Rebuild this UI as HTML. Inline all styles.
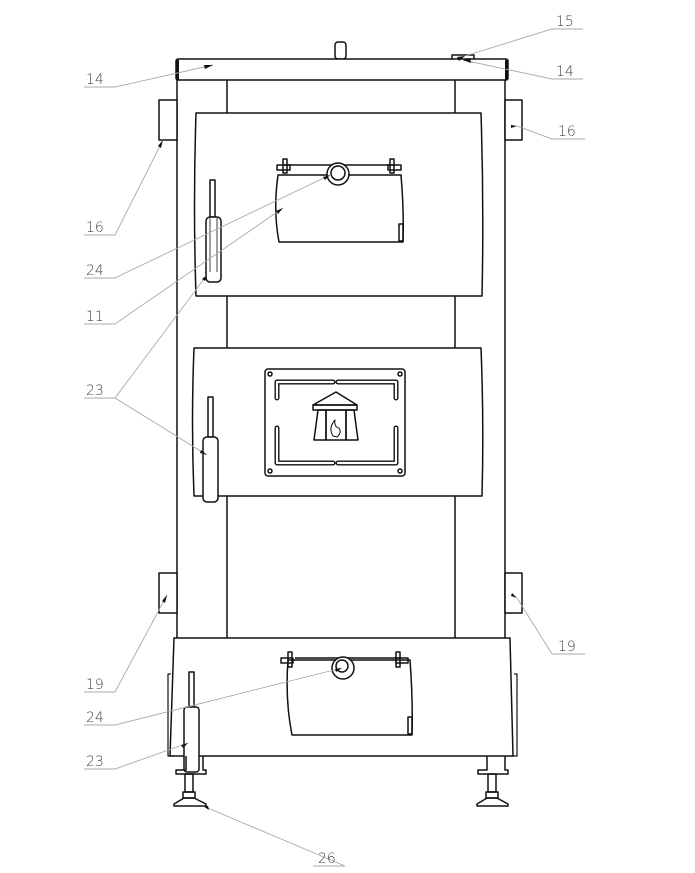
<!DOCTYPE html>
<html><head><meta charset="utf-8"><style>
html,body{margin:0;padding:0;background:#fff;}
svg{display:block;}
text{font-family:"DejaVu Sans","Liberation Sans",sans-serif;font-size:14px;fill:#444;font-weight:200;}
</style></head><body>
<svg width="695" height="873" viewBox="0 0 695 873" xmlns="http://www.w3.org/2000/svg">
<g fill="none" stroke="#111" stroke-width="1.5" stroke-linejoin="round">
<rect x="335" y="42" width="11" height="17" rx="3" fill="#fff"/>
<rect x="452" y="55" width="22" height="5" fill="#fff"/>
<rect x="176" y="59" width="332" height="21" rx="2" fill="#fff"/>
<line x1="177.5" y1="60" x2="177.5" y2="80" stroke-width="3"/>
<line x1="506.5" y1="60" x2="506.5" y2="80" stroke-width="3"/>
<line x1="177" y1="80" x2="177" y2="639"/>
<line x1="505" y1="80" x2="505" y2="639"/>
<line x1="227" y1="80" x2="227" y2="639"/>
<line x1="455" y1="80" x2="455" y2="639"/>
<rect x="159" y="100" width="18" height="40" fill="#fff"/>
<rect x="505" y="100" width="17" height="40" fill="#fff"/>
<rect x="159" y="573" width="18" height="40" fill="#fff"/>
<rect x="505" y="573" width="17" height="40" fill="#fff"/>
<path d="M196,113 H481 Q484,205 482,296 H196 Q193,205 196,113 Z" fill="#fff"/>
<path d="M278,175 H401 Q404,210 403,242 H279 Q273,210 278,175 Z"/>
<line x1="284" y1="165" x2="395" y2="165"/>
<rect x="277" y="165" width="13" height="5"/><rect x="283" y="159" width="4" height="14"/>
<rect x="388" y="165" width="13" height="5"/><rect x="390" y="159" width="4" height="14"/>
<circle cx="338" cy="174" r="11" fill="#fff"/><circle cx="338" cy="173" r="7"/>
<rect x="399" y="224" width="4" height="17"/>
<rect x="210" y="180" width="5" height="37" fill="#fff"/>
<rect x="206" y="217" width="15" height="65" rx="4" fill="#fff"/>
<line x1="210" y1="218" x2="210" y2="272" stroke-width="0.8"/><line x1="217" y1="218" x2="217" y2="272" stroke-width="0.8"/>
<path d="M194,348 H481 Q484,422 482,496 H194 Q191,422 194,348 Z" fill="#fff"/>
<rect x="265" y="369" width="140" height="107" rx="3"/>
<circle cx="270" cy="374" r="2"/><circle cx="400" cy="374" r="2"/><circle cx="270" cy="471" r="2"/><circle cx="400" cy="471" r="2"/>
<g stroke-width="5" stroke-linecap="round"><path d="M333,382 H277 V398"/><path d="M338,382 H396 V398"/><path d="M277,428 V463 H333"/><path d="M396,428 V463 H338"/></g>
<g stroke="#fff" stroke-width="2.2" stroke-linecap="round"><path d="M333,382 H277 V398"/><path d="M338,382 H396 V398"/><path d="M277,428 V463 H333"/><path d="M396,428 V463 H338"/></g>
<path d="M336,392 L357,405 H313 Z"/><rect x="313" y="405" width="44" height="5"/>
<path d="M318,410 H326 V440 H314 Z"/><path d="M346,410 H354 L358,440 H346 Z"/><rect x="326" y="410" width="20" height="30"/>
<path d="M333,436 Q328,428 335,420 Q334,427 339,428 Q342,433 337,437 Z" stroke-width="1"/>
<rect x="208" y="397" width="5" height="40" fill="#fff"/>
<rect x="203" y="437" width="15" height="65" rx="4" fill="#fff"/>
<path d="M174,638 H510 L513,756 H170 Z" fill="#fff"/>
<path d="M171,674 H168 V756 H174" stroke-width="1.2"/>
<path d="M514,674 H517 V756 H512" stroke-width="1.2"/>
<path d="M288,660 H410 Q413,700 412,735 H292 Q285,700 288,660 Z"/>
<line x1="295" y1="658" x2="400" y2="658"/>
<rect x="281" y="658" width="12" height="5"/><rect x="288" y="652" width="4" height="15"/>
<rect x="396" y="658" width="12" height="5"/><rect x="396" y="652" width="4" height="15"/>
<circle cx="343" cy="668" r="11" fill="#fff"/><circle cx="342" cy="666" r="6"/>
<rect x="408" y="717" width="4" height="17"/>
<rect x="189" y="672" width="5" height="36" fill="#fff"/>
<rect x="184" y="707" width="15" height="65" rx="3" fill="#fff"/>
<path d="M186,756 V770 H176 V774 H206 V770 H203 V756"/>
<rect x="185" y="774" width="8" height="18"/><rect x="183" y="792" width="12" height="6"/>
<path d="M184,798 H194 L206,804 V806 H174 V804 Z"/>
<path d="M487,756 V770 H478 V774 H508 V770 H505 V756"/>
<rect x="488" y="774" width="8" height="18"/><rect x="486" y="792" width="12" height="6"/>
<path d="M487,798 H497 L508,804 V806 H477 V804 Z"/>
</g>
<g stroke="#aaa" stroke-width="0.9" fill="none">
<path d="M84,87 H115 L213,65"/>
<path d="M583,29 H552 L465,56"/>
<path d="M583,79 H552 L463,60"/>
<path d="M84,235 H115 L163,140"/>
<path d="M585,139 H552 L517,126"/>
<path d="M84,278 H115 L330,175"/>
<path d="M84,324 H115 L283,208"/>
<path d="M84,398 H115 L207,275"/>
<path d="M115,398 L207,455"/>
<path d="M84,692 H115 L167,595"/>
<path d="M585,654 H552 L517,598"/>
<path d="M84,725 H115 L342,668"/>
<path d="M84,769 H115 L188,743"/>
<path d="M313,866 H345 L203,806"/>
</g>
<g fill="#111">
<path d="M213,65 l-9,0 l1,4 z"/><path d="M465,56 l-8,1 l2,4 z"/><path d="M463,60 l8,3 l-1,-5 z"/>
<path d="M163,140 l-5,6 l3,2 z"/><path d="M517,126 l-6,-1 l0,3 z"/><path d="M330,175 l-7,2 l2,3 z"/>
<path d="M283,208 l-7,3 l2,3 z"/><path d="M207,275 l-5,4 l3,2 z"/><path d="M207,455 l-6,-5 l-1,3 z"/>
<path d="M167,595 l-5,6 l3,2 z"/><path d="M517,598 l-5,-5 l-1,3 z"/><path d="M342,668 l-7,1 l1,3 z"/>
<path d="M188,743 l-7,2 l2,3 z"/><path d="M203,806 l6,4 l-1,-4 z"/>
</g>
<text x="86" y="84">14</text>
<text x="556" y="26">15</text>
<text x="556" y="76">14</text>
<text x="86" y="232">16</text>
<text x="558" y="136">16</text>
<text x="86" y="275">24</text>
<text x="86" y="321">11</text>
<text x="86" y="395">23</text>
<text x="86" y="689">19</text>
<text x="558" y="651">19</text>
<text x="86" y="722">24</text>
<text x="86" y="766">23</text>
<text x="318" y="863">26</text>
</svg>
</body></html>
